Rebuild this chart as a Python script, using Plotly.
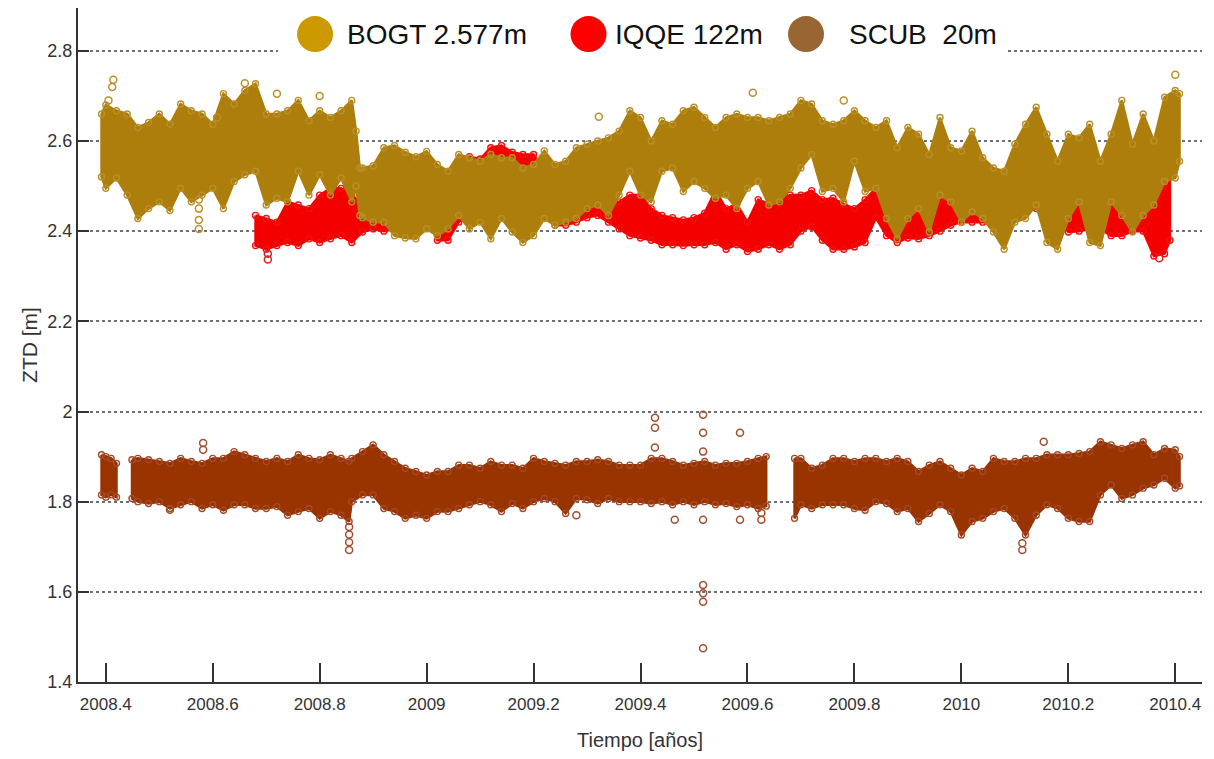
import plotly.graph_objects as go

# ---------------- data ----------------
# BOGT 2.577m : envelope (upper / lower) of the ZTD scatter
bogt_t = [2008.392, 2008.40, 2008.42, 2008.44, 2008.46, 2008.48, 2008.50, 2008.52, 2008.54,
          2008.56, 2008.58, 2008.60, 2008.62, 2008.64, 2008.66, 2008.68, 2008.70, 2008.72,
          2008.74, 2008.76, 2008.78, 2008.80, 2008.82, 2008.84, 2008.86, 2008.868, 2008.875,
          2008.88, 2008.90, 2008.92, 2008.94, 2008.96, 2008.98, 2009.00, 2009.02, 2009.04,
          2009.06, 2009.08, 2009.10, 2009.12, 2009.14, 2009.16, 2009.18, 2009.20, 2009.22,
          2009.24, 2009.26, 2009.28, 2009.30, 2009.32, 2009.34, 2009.36, 2009.38, 2009.40,
          2009.42, 2009.44, 2009.46, 2009.48, 2009.50, 2009.52, 2009.54, 2009.56, 2009.58,
          2009.60, 2009.62, 2009.64, 2009.66, 2009.68, 2009.70, 2009.72, 2009.74, 2009.76,
          2009.78, 2009.80, 2009.82, 2009.84, 2009.86, 2009.88, 2009.90, 2009.92, 2009.94,
          2009.96, 2009.98, 2010.00, 2010.02, 2010.04, 2010.06, 2010.08, 2010.10, 2010.12,
          2010.14, 2010.16, 2010.18, 2010.20, 2010.22, 2010.24, 2010.26, 2010.28, 2010.30,
          2010.32, 2010.34, 2010.36, 2010.38, 2010.40, 2010.408]
bogt_hi = [2.660, 2.680, 2.667, 2.660, 2.630, 2.641, 2.660, 2.637, 2.682,
           2.667, 2.660, 2.637, 2.705, 2.682, 2.712, 2.727, 2.660, 2.660,
           2.667, 2.690, 2.645, 2.667, 2.652, 2.667, 2.690, 2.622, 2.540,
           2.540, 2.545, 2.585, 2.590, 2.575, 2.565, 2.577, 2.548, 2.533,
           2.570, 2.563, 2.555, 2.570, 2.563, 2.563, 2.540, 2.548, 2.578,
           2.548, 2.555, 2.585, 2.593, 2.600, 2.607, 2.622, 2.667, 2.652,
           2.600, 2.645, 2.637, 2.667, 2.675, 2.652, 2.630, 2.652, 2.660,
           2.652, 2.652, 2.645, 2.652, 2.660, 2.690, 2.682, 2.645, 2.637,
           2.645, 2.667, 2.645, 2.630, 2.645, 2.585, 2.630, 2.615, 2.570,
           2.652, 2.585, 2.578, 2.622, 2.563, 2.540, 2.533, 2.593, 2.637,
           2.675, 2.615, 2.555, 2.615, 2.607, 2.637, 2.555, 2.615, 2.690,
           2.593, 2.660, 2.600, 2.697, 2.712, 2.705]
bogt_lo = [2.520, 2.495, 2.518, 2.480, 2.428, 2.450, 2.465, 2.446, 2.495,
           2.465, 2.480, 2.495, 2.450, 2.510, 2.525, 2.533, 2.458, 2.473,
           2.465, 2.533, 2.480, 2.525, 2.480, 2.518, 2.465, 2.500, 2.435,
           2.430, 2.420, 2.420, 2.390, 2.385, 2.383, 2.405, 2.390, 2.405,
           2.435, 2.405, 2.420, 2.383, 2.428, 2.398, 2.375, 2.390, 2.428,
           2.413, 2.420, 2.428, 2.450, 2.458, 2.435, 2.480, 2.533, 2.480,
           2.465, 2.533, 2.540, 2.488, 2.510, 2.495, 2.473, 2.480, 2.450,
           2.495, 2.510, 2.458, 2.465, 2.495, 2.540, 2.570, 2.488, 2.495,
           2.465, 2.555, 2.488, 2.495, 2.428, 2.383, 2.428, 2.450, 2.398,
           2.480, 2.465, 2.420, 2.443, 2.428, 2.398, 2.360, 2.420, 2.428,
           2.458, 2.375, 2.360, 2.428, 2.465, 2.375, 2.368, 2.465, 2.435,
           2.398, 2.435, 2.458, 2.510, 2.518, 2.555]
bogt_out_t = [2008.405, 2008.412, 2008.414, 2008.574, 2008.574, 2008.574, 2008.574,
              2008.608, 2008.66, 2008.72, 2008.80, 2009.322, 2009.61, 2009.78, 2010.40]
bogt_out_v = [2.690, 2.720, 2.736, 2.470, 2.450, 2.425, 2.405,
              2.652, 2.728, 2.705, 2.700, 2.654, 2.707, 2.690, 2.747]

# IQQE 122m
iqqe_t = [2008.68, 2008.70, 2008.72, 2008.74, 2008.76, 2008.78, 2008.80, 2008.82, 2008.84,
          2008.86, 2008.88, 2008.90, 2008.92, 2008.94, 2008.96, 2008.98, 2009.00, 2009.02,
          2009.04, 2009.06, 2009.08, 2009.10, 2009.12, 2009.14, 2009.16, 2009.18, 2009.20,
          2009.22, 2009.24, 2009.26, 2009.28, 2009.30, 2009.32, 2009.34, 2009.36, 2009.38,
          2009.40, 2009.42, 2009.44, 2009.46, 2009.48, 2009.50, 2009.52, 2009.54, 2009.56,
          2009.58, 2009.60, 2009.62, 2009.64, 2009.66, 2009.68, 2009.70, 2009.72, 2009.74,
          2009.76, 2009.78, 2009.80, 2009.82, 2009.84, 2009.86, 2009.88, 2009.90, 2009.92,
          2009.94, 2009.96, 2009.98, 2010.00, 2010.02, 2010.04, 2010.06, 2010.08, 2010.10,
          2010.12, 2010.14, 2010.16, 2010.18, 2010.20, 2010.22, 2010.24, 2010.26, 2010.28,
          2010.30, 2010.32, 2010.34, 2010.36, 2010.38, 2010.39]
iqqe_hi = [2.435, 2.428, 2.420, 2.465, 2.458, 2.450, 2.480, 2.495, 2.495,
           2.480, 2.458, 2.450, 2.473, 2.460, 2.470, 2.500, 2.520, 2.530,
           2.520, 2.550, 2.565, 2.560, 2.585, 2.590, 2.575, 2.570, 2.570,
           2.530, 2.500, 2.490, 2.480, 2.490, 2.488, 2.470, 2.465, 2.480,
           2.480, 2.450, 2.435, 2.430, 2.425, 2.430, 2.440, 2.490, 2.450,
           2.460, 2.420, 2.470, 2.460, 2.470, 2.480, 2.480, 2.490, 2.470,
           2.473, 2.460, 2.450, 2.470, 2.495, 2.480, 2.460, 2.490, 2.480,
           2.460, 2.470, 2.480, 2.475, 2.470, 2.460, 2.470, 2.480, 2.500,
           2.505, 2.500, 2.490, 2.490, 2.488, 2.480, 2.480, 2.480, 2.510,
           2.500, 2.500, 2.510, 2.530, 2.500, 2.520]
iqqe_lo = [2.368, 2.360, 2.368, 2.375, 2.368, 2.383, 2.375, 2.383, 2.390,
           2.375, 2.398, 2.405, 2.400, 2.405, 2.410, 2.420, 2.430, 2.380,
           2.380, 2.420, 2.440, 2.430, 2.450, 2.460, 2.480, 2.490, 2.490,
           2.450, 2.413, 2.413, 2.420, 2.430, 2.435, 2.420, 2.405, 2.390,
           2.385, 2.380, 2.370, 2.370, 2.368, 2.370, 2.370, 2.375, 2.360,
           2.370, 2.355, 2.360, 2.370, 2.360, 2.370, 2.400, 2.410, 2.380,
           2.360, 2.360, 2.365, 2.375, 2.430, 2.390, 2.375, 2.385, 2.383,
           2.390, 2.400, 2.413, 2.420, 2.420, 2.420, 2.420, 2.430, 2.440,
           2.450, 2.450, 2.450, 2.430, 2.398, 2.400, 2.405, 2.405, 2.390,
           2.390, 2.400, 2.400, 2.345, 2.350, 2.380]
iqqe_out_t = [2008.703, 2008.703, 2010.37]
iqqe_out_v = [2.337, 2.350, 2.340]

# SCUB 20m (three blocks separated by data gaps)
scub_blocks_t = [
    [2008.392, 2008.40, 2008.41, 2008.42],
    [2008.449, 2008.46, 2008.48, 2008.50, 2008.52, 2008.54, 2008.56, 2008.58, 2008.60,
     2008.62, 2008.64, 2008.66, 2008.68, 2008.70, 2008.72, 2008.74, 2008.76, 2008.78,
     2008.80, 2008.82, 2008.84, 2008.855, 2008.86, 2008.88, 2008.90, 2008.92, 2008.94,
     2008.96, 2008.98, 2009.00, 2009.02, 2009.04, 2009.06, 2009.08, 2009.10, 2009.12,
     2009.14, 2009.16, 2009.18, 2009.20, 2009.22, 2009.24, 2009.26, 2009.28, 2009.30,
     2009.32, 2009.34, 2009.36, 2009.38, 2009.40, 2009.42, 2009.44, 2009.46, 2009.48,
     2009.50, 2009.52, 2009.54, 2009.56, 2009.58, 2009.60, 2009.62, 2009.635],
    [2009.688, 2009.70, 2009.72, 2009.74, 2009.76, 2009.78, 2009.80, 2009.82, 2009.84,
     2009.86, 2009.88, 2009.90, 2009.92, 2009.94, 2009.96, 2009.98, 2010.00, 2010.02,
     2010.04, 2010.06, 2010.08, 2010.10, 2010.12, 2010.14, 2010.16, 2010.18, 2010.20,
     2010.22, 2010.24, 2010.26, 2010.28, 2010.30, 2010.32, 2010.34, 2010.36, 2010.38,
     2010.40, 2010.408],
]
scub_blocks_hi = [
    [1.904, 1.900, 1.896, 1.885],
    [1.893, 1.896, 1.893, 1.889, 1.885, 1.896, 1.889, 1.885, 1.896,
     1.896, 1.911, 1.904, 1.896, 1.889, 1.896, 1.889, 1.904, 1.896,
     1.893, 1.904, 1.896, 1.890, 1.896, 1.911, 1.926, 1.904, 1.889,
     1.874, 1.867, 1.859, 1.867, 1.867, 1.881, 1.881, 1.874, 1.889,
     1.881, 1.881, 1.874, 1.896, 1.889, 1.885, 1.881, 1.889, 1.889,
     1.893, 1.889, 1.881, 1.881, 1.881, 1.896, 1.896, 1.889, 1.881,
     1.885, 1.889, 1.881, 1.885, 1.885, 1.889, 1.896, 1.900],
    [1.896, 1.896, 1.874, 1.881, 1.896, 1.896, 1.889, 1.896, 1.896,
     1.889, 1.896, 1.889, 1.867, 1.881, 1.889, 1.874, 1.859, 1.874,
     1.867, 1.896, 1.889, 1.889, 1.896, 1.896, 1.904, 1.904, 1.904,
     1.907, 1.911, 1.933, 1.926, 1.918, 1.926, 1.933, 1.904, 1.918,
     1.915, 1.900],
]
scub_blocks_lo = [
    [1.815, 1.810, 1.815, 1.810],
    [1.807, 1.800, 1.796, 1.800, 1.785, 1.793, 1.800, 1.785, 1.793,
     1.781, 1.793, 1.793, 1.785, 1.785, 1.789, 1.770, 1.778, 1.785,
     1.763, 1.778, 1.770, 1.756, 1.800, 1.815, 1.815, 1.785, 1.778,
     1.763, 1.770, 1.763, 1.778, 1.778, 1.785, 1.793, 1.800, 1.793,
     1.778, 1.796, 1.785, 1.800, 1.807, 1.800, 1.774, 1.807, 1.804,
     1.796, 1.807, 1.800, 1.800, 1.800, 1.796, 1.800, 1.793, 1.800,
     1.793, 1.800, 1.793, 1.796, 1.789, 1.793, 1.785, 1.790],
    [1.763, 1.793, 1.785, 1.793, 1.793, 1.793, 1.785, 1.781, 1.800,
     1.796, 1.778, 1.785, 1.756, 1.774, 1.793, 1.778, 1.726, 1.756,
     1.763, 1.778, 1.785, 1.763, 1.726, 1.770, 1.793, 1.785, 1.763,
     1.756, 1.756, 1.815, 1.837, 1.807, 1.815, 1.830, 1.837, 1.852,
     1.830, 1.835],
]
scub_out_t = [2008.52, 2008.582, 2008.582, 2008.855, 2008.855, 2008.855, 2008.855,
              2009.28, 2009.427, 2009.427, 2009.427, 2009.464,
              2009.517, 2009.517, 2009.517, 2009.517, 2009.517, 2009.517, 2009.517, 2009.517,
              2009.586, 2009.586, 2009.626, 2009.626, 2010.114, 2010.114, 2010.154]
scub_out_v = [1.782, 1.930, 1.915, 1.744, 1.727, 1.710, 1.693,
              1.770, 1.986, 1.964, 1.920, 1.760,
              1.993, 1.953, 1.911, 1.760, 1.615, 1.597, 1.578, 1.475,
              1.953, 1.760, 1.775, 1.760, 1.708, 1.693, 1.933]

legend_labels = ["BOGT 2.577m", "IQQE 122m", "SCUB  20m"]
legend_colors = ["#CC9900", "#FF0000", "#996633"]

x_ticks = [2008.4, 2008.6, 2008.8, 2009.0, 2009.2, 2009.4, 2009.6, 2009.8, 2010.0, 2010.2, 2010.4]
x_ticktext = ["2008.4", "2008.6", "2008.8", "2009", "2009.2", "2009.4", "2009.6",
              "2009.8", "2010", "2010.2", "2010.4"]
y_ticks = [1.4, 1.6, 1.8, 2.0, 2.2, 2.4, 2.6, 2.8]
y_ticktext = ["1.4", "1.6", "1.8", "2", "2.2", "2.4", "2.6", "2.8"]

# ---------------- styling ----------------
FONT = "Liberation Sans, Arial, sans-serif"
BAND = {"BOGT": "#AE7E0C", "IQQE": "#F50000", "SCUB": "#993300"}


def band_trace(blocks_t, blocks_hi, blocks_lo, color, name):
    xs, ys = [], []
    for t, hi, lo in zip(blocks_t, blocks_hi, blocks_lo):
        if xs:
            xs.append(None)
            ys.append(None)
        xs += list(t) + list(t)[::-1] + [t[0]]
        ys += list(hi) + list(lo)[::-1] + [hi[0]]
    return go.Scatter(x=xs, y=ys, mode="lines", fill="toself", fillcolor=color,
                      line=dict(color=color, width=2.5), name=name,
                      showlegend=False, hoverinfo="skip")


def edge_trace(blocks_t, blocks_hi, blocks_lo, color):
    xs, ys = [], []
    for t, hi, lo in zip(blocks_t, blocks_hi, blocks_lo):
        xs += list(t) + list(t)
        ys += list(hi) + list(lo)
    return go.Scatter(x=xs, y=ys, mode="markers", showlegend=False, hoverinfo="skip",
                      marker=dict(symbol="circle-open", size=6, color=color,
                                  line=dict(width=1.4, color=color)))


def outlier_trace(t, v, color):
    return go.Scatter(x=t, y=v, mode="markers", showlegend=False,
                      marker=dict(symbol="circle-open", size=7, color=color,
                                  line=dict(width=1.5, color=color)))


fig = go.Figure()
# SCUB
fig.add_trace(band_trace(scub_blocks_t, scub_blocks_hi, scub_blocks_lo, BAND["SCUB"], "SCUB"))
fig.add_trace(edge_trace(scub_blocks_t, scub_blocks_hi, scub_blocks_lo, "#A24A2A"))
fig.add_trace(outlier_trace(scub_out_t, scub_out_v, "#A0502E"))
# IQQE
fig.add_trace(band_trace([iqqe_t], [iqqe_hi], [iqqe_lo], BAND["IQQE"], "IQQE"))
fig.add_trace(edge_trace([iqqe_t], [iqqe_hi], [iqqe_lo], "#F01010"))
fig.add_trace(outlier_trace(iqqe_out_t, iqqe_out_v, "#E02020"))
# BOGT
fig.add_trace(band_trace([bogt_t], [bogt_hi], [bogt_lo], BAND["BOGT"], "BOGT"))
fig.add_trace(edge_trace([bogt_t], [bogt_hi], [bogt_lo], "#B8902A"))
fig.add_trace(outlier_trace(bogt_out_t, bogt_out_v, "#BB8F2A"))

# legend drawn by hand (big round swatches on a white box)
shapes = [dict(type="rect", xref="paper", yref="paper", x0=0.178, x1=0.827, y0=0.926, y1=0.995,
               fillcolor="white", line=dict(width=0), layer="above")]
annotations = []
swatch_x = [0.2109, 0.4542, 0.6477]
text_x = [0.2376, 0.4760, 0.6841]
for sx, tx, lab, col in zip(swatch_x, text_x, legend_labels, legend_colors):
    shapes.append(dict(type="circle", xref="paper", yref="paper", xsizemode="pixel",
                       ysizemode="pixel", xanchor=sx, yanchor=0.9614, x0=-18, x1=18,
                       y0=-18, y1=18, fillcolor=col, line=dict(width=0), layer="above"))
    annotations.append(dict(xref="paper", yref="paper", x=tx, y=0.9614, text=lab,
                            showarrow=False, xanchor="left", yanchor="middle",
                            font=dict(family=FONT, size=28, color="#111111")))

# the page body adds an 8 px offset, so the figure is sized to fit inside the window
fig.update_layout(
    width=1198, height=743,
    margin=dict(l=70, r=4, t=0, b=69),
    paper_bgcolor="white", plot_bgcolor="white",
    shapes=shapes, annotations=annotations,
    font=dict(family=FONT, color="#333333"),
    showlegend=False,
)
fig.update_xaxes(
    range=[2008.348, 2010.45], tickvals=x_ticks, ticktext=x_ticktext, automargin=False,
    showgrid=False, zeroline=False, showline=True, linecolor="#333333", linewidth=2,
    ticks="inside", ticklen=19, tickwidth=1.5, tickcolor="#333333", ticklabelstandoff=6,
    tickfont=dict(family=FONT, size=17, color="#333333"),
    title=dict(text="Tiempo [años]", font=dict(family=FONT, size=20, color="#333333"), standoff=24),
)
fig.update_yaxes(
    range=[1.4, 2.895], tickvals=y_ticks, ticktext=y_ticktext, automargin=False,
    showgrid=True, gridcolor="#6a6f78", griddash="dot", gridwidth=1.5,
    zeroline=False, showline=True, linecolor="#333333", linewidth=2,
    ticks="inside", ticklen=11, tickwidth=2, tickcolor="#333333",
    tickfont=dict(family=FONT, size=18, color="#333333"),
    title=dict(text="ZTD [m]", font=dict(family=FONT, size=21, color="#333333"), standoff=4),
)

fig.write_html("out.html")
